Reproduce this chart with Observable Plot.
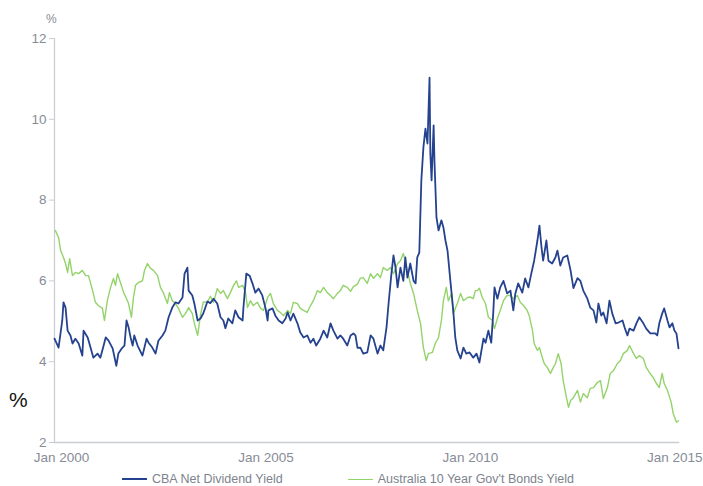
<!DOCTYPE html>
<html>
<head>
<meta charset="utf-8">
<script src="https://cdn.jsdelivr.net/npm/d3@7"></script>
<script src="https://cdn.jsdelivr.net/npm/@observablehq/plot@0.6"></script>
<style>
  html, body { margin: 0; padding: 0; background: #ffffff; }
  body { width: 703px; height: 486px; position: relative; overflow: hidden; font-family: "Liberation Sans", Arial, sans-serif; }
  #chart { position: absolute; left: 0; top: 0; }
  .unit-top { position: absolute; left: 46px; top: 12px; font-size: 12px; color: #878c96; }
  .unit-left { position: absolute; left: 9px; top: 388px; font-size: 21px; color: #111111; }
  .legend { position: absolute; left: 122px; top: 472px; display: flex; align-items: center; font-size: 12.5px; color: #7d838d; }
  .legend .item { display: flex; align-items: center; }
  .legend .sw { display: inline-block; width: 25px; height: 0; margin-right: 5px; }
</style>
</head>
<body>
<div id="chart"></div>
<div class="unit-top">%</div>
<div class="unit-left">%</div>
<div class="legend" id="legend"></div>
<script>
// ---- Data (decimal years, values in %) ----
const seriesNames = ["CBA Net Dividend Yield", "Australia 10 Year Gov't Bonds Yield"];
const seriesColors = ["#24428e", "#93d36a"];

const cbaYears = [1999.83,1999.93,2000.02,2000.05,2000.10,2000.15,2000.22,2000.27,2000.34,2000.42,2000.51,2000.54,2000.64,2000.71,2000.78,2000.88,2000.95,2001.03,2001.08,2001.15,2001.25,2001.34,2001.39,2001.49,2001.54,2001.59,2001.64,2001.69,2001.74,2001.78,2001.86,2001.98,2002.08,2002.13,2002.22,2002.30,2002.37,2002.47,2002.54,2002.62,2002.71,2002.79,2002.86,2002.96,2003.01,2003.08,2003.11,2003.20,2003.25,2003.33,2003.40,2003.47,2003.57,2003.64,2003.72,2003.81,2003.89,2003.96,2004.01,2004.08,2004.18,2004.25,2004.33,2004.43,2004.45,2004.52,2004.60,2004.67,2004.74,2004.82,2004.91,2004.99,2005.04,2005.06,2005.16,2005.23,2005.31,2005.40,2005.48,2005.53,2005.60,2005.67,2005.77,2005.84,2005.92,2006.01,2006.09,2006.16,2006.23,2006.33,2006.41,2006.50,2006.58,2006.65,2006.75,2006.82,2006.89,2006.99,2007.07,2007.14,2007.19,2007.24,2007.31,2007.38,2007.48,2007.56,2007.63,2007.73,2007.80,2007.87,2007.95,2008.00,2008.07,2008.12,2008.17,2008.22,2008.29,2008.36,2008.41,2008.46,2008.53,2008.61,2008.66,2008.70,2008.75,2008.80,2008.85,2008.90,2008.95,2009.00,2009.02,2009.05,2009.10,2009.12,2009.17,2009.22,2009.29,2009.34,2009.39,2009.44,2009.51,2009.58,2009.63,2009.68,2009.76,2009.83,2009.90,2009.98,2010.07,2010.15,2010.22,2010.32,2010.37,2010.44,2010.51,2010.56,2010.59,2010.66,2010.73,2010.81,2010.90,2010.98,2011.05,2011.10,2011.17,2011.27,2011.34,2011.42,2011.49,2011.56,2011.64,2011.69,2011.74,2011.78,2011.86,2011.91,2012.00,2012.08,2012.13,2012.20,2012.27,2012.37,2012.45,2012.52,2012.62,2012.69,2012.76,2012.86,2012.93,2013.01,2013.08,2013.13,2013.20,2013.25,2013.33,2013.40,2013.47,2013.55,2013.62,2013.72,2013.77,2013.84,2013.89,2013.99,2014.06,2014.13,2014.23,2014.30,2014.40,2014.52,2014.57,2014.62,2014.69,2014.74,2014.82,2014.87,2014.94,2014.99,2015.04,2015.09];
const cbaYield = [4.57,4.35,5.02,5.47,5.34,4.77,4.65,4.45,4.57,4.45,4.15,4.77,4.6,4.35,4.1,4.2,4.1,4.4,4.6,4.52,4.33,3.9,4.2,4.35,4.4,5.02,4.85,4.6,4.4,4.65,4.4,4.15,4.57,4.47,4.35,4.2,4.52,4.65,4.77,5.1,5.34,5.47,5.44,5.59,6.18,6.33,5.76,5.64,5.44,5.02,5.07,5.2,5.49,5.45,5.56,5.44,5.1,5.02,4.83,5.07,4.95,5.27,5.1,5.02,5.34,6.18,6.13,5.94,5.71,5.81,5.64,5.32,5.02,5.27,5.32,5.14,5.02,4.95,5.07,5.22,5.02,5.19,4.95,4.72,4.6,4.65,4.47,4.57,4.4,4.57,4.77,4.6,4.95,4.77,4.57,4.65,4.57,4.4,4.65,4.7,4.65,4.34,4.35,4.2,4.23,4.65,4.57,4.2,4.4,4.28,4.85,5.44,6.18,6.63,6.33,5.84,6.33,6.0,6.58,6.08,6.43,6.0,5.94,6.58,6.7,8.49,9.3,9.77,9.4,11.03,9.15,8.49,9.85,8.98,7.57,7.25,7.5,7.32,7.0,6.75,6.0,5.27,4.6,4.28,4.08,4.35,4.2,4.23,4.1,4.2,3.98,4.57,4.47,4.77,4.47,5.22,5.84,5.56,5.84,6.0,5.69,5.76,5.27,5.69,5.94,5.71,6.06,5.84,6.18,6.5,7.0,7.37,6.83,6.5,7.0,6.5,6.43,6.58,6.75,6.38,6.58,6.63,6.26,5.82,6.07,6.0,5.76,5.56,5.34,5.27,4.97,5.44,5.14,5.22,4.95,5.51,5.19,4.95,4.97,5.02,4.85,4.65,4.82,4.77,4.95,5.1,4.95,4.82,4.7,4.7,4.65,4.95,5.19,5.32,5.02,4.85,4.95,4.77,4.7,4.33];

const bondYears = [1999.85,1999.93,1999.98,2000.05,2000.10,2000.15,2000.20,2000.27,2000.34,2000.42,2000.51,2000.59,2000.66,2000.76,2000.83,2000.90,2001.00,2001.05,2001.12,2001.20,2001.27,2001.32,2001.37,2001.44,2001.52,2001.59,2001.64,2001.71,2001.76,2001.81,2001.88,2001.98,2002.03,2002.10,2002.18,2002.25,2002.35,2002.42,2002.49,2002.59,2002.64,2002.71,2002.79,2002.86,2002.96,2003.03,2003.11,2003.20,2003.25,2003.33,2003.40,2003.47,2003.57,2003.64,2003.72,2003.81,2003.89,2003.96,2004.06,2004.13,2004.21,2004.28,2004.33,2004.43,2004.50,2004.55,2004.62,2004.69,2004.79,2004.87,2004.94,2005.04,2005.11,2005.18,2005.28,2005.35,2005.43,2005.53,2005.60,2005.67,2005.77,2005.84,2005.92,2006.01,2006.09,2006.16,2006.26,2006.33,2006.41,2006.50,2006.58,2006.65,2006.75,2006.82,2006.89,2006.99,2007.07,2007.14,2007.24,2007.31,2007.38,2007.48,2007.56,2007.63,2007.73,2007.80,2007.87,2007.97,2008.04,2008.12,2008.22,2008.29,2008.36,2008.46,2008.53,2008.61,2008.70,2008.78,2008.85,2008.92,2008.97,2009.07,2009.14,2009.22,2009.29,2009.34,2009.41,2009.46,2009.54,2009.58,2009.68,2009.76,2009.83,2009.93,2010.00,2010.07,2010.12,2010.17,2010.22,2010.29,2010.37,2010.44,2010.54,2010.59,2010.66,2010.73,2010.81,2010.90,2010.98,2011.05,2011.15,2011.22,2011.30,2011.39,2011.44,2011.52,2011.56,2011.64,2011.69,2011.76,2011.81,2011.88,2011.96,2012.03,2012.08,2012.15,2012.22,2012.27,2012.35,2012.40,2012.45,2012.52,2012.62,2012.69,2012.76,2012.86,2012.93,2013.01,2013.11,2013.18,2013.25,2013.35,2013.42,2013.50,2013.59,2013.67,2013.74,2013.84,2013.89,2013.99,2014.06,2014.13,2014.23,2014.30,2014.38,2014.47,2014.55,2014.62,2014.69,2014.74,2014.82,2014.91,2014.96,2015.04,2015.09];
const bondYield = [7.25,7.07,6.75,6.58,6.43,6.21,6.55,6.13,6.21,6.18,6.26,6.13,6.13,5.76,5.47,5.39,5.32,5.02,5.51,5.84,6.06,5.89,6.18,5.96,5.71,5.56,5.44,5.1,5.59,5.89,5.96,6.0,6.26,6.43,6.31,6.26,6.13,5.84,5.71,5.44,5.71,5.51,5.44,5.32,5.1,5.19,5.34,5.19,4.95,4.65,5.16,5.48,5.47,5.62,5.47,5.81,5.69,5.76,5.56,5.71,5.89,6.0,5.84,5.89,5.71,5.34,5.51,5.39,5.47,5.32,5.27,5.59,5.69,5.44,5.27,5.22,5.14,5.27,5.19,5.47,5.44,5.32,5.27,5.22,5.39,5.51,5.76,5.71,5.84,5.71,5.64,5.56,5.69,5.76,5.89,5.84,5.74,5.86,5.92,6.07,6.08,5.94,6.18,6.06,6.18,6.08,6.33,6.26,6.33,6.18,6.43,6.5,6.68,6.26,5.94,5.69,5.27,4.95,4.35,4.03,4.2,4.23,4.45,4.6,5.02,5.51,5.84,5.51,5.69,5.19,5.44,5.69,5.51,5.59,5.6,5.56,5.76,5.76,5.82,5.59,5.44,5.1,5.02,4.82,5.07,5.27,5.51,5.64,5.64,5.56,5.64,5.47,5.39,5.27,5.14,4.77,4.45,4.28,4.35,4.1,3.95,3.86,3.71,3.86,3.95,4.2,3.95,3.53,3.11,2.87,3.04,3.11,3.29,3.0,3.21,3.11,3.34,3.36,3.49,3.53,3.09,3.36,3.71,3.78,3.95,4.03,4.2,4.28,4.4,4.2,4.08,4.15,4.08,3.86,3.73,3.61,3.46,3.36,3.71,3.46,3.29,3.0,2.72,2.5,2.54];

const xDomainYears = [1999.83, 2015.09];
const xTickYears = [2000, 2005, 2010, 2015];
const yDomain = [2, 12];
const yTicks = [2, 4, 6, 8, 10, 12];

// ---- helpers ----
function toDate(y) {
  const yr = Math.floor(y);
  const start = Date.UTC(yr, 0, 1), end = Date.UTC(yr + 1, 0, 1);
  return new Date(start + (y - yr) * (end - start));
}
const rows = [];
cbaYears.forEach((y, i) => rows.push({date: toDate(y), value: cbaYield[i], series: seriesNames[0]}));
bondYears.forEach((y, i) => rows.push({date: toDate(y), value: bondYield[i], series: seriesNames[1]}));
const cbaRows = rows.filter(d => d.series === seriesNames[0]);
const bondRows = rows.filter(d => d.series === seriesNames[1]);

const axisColor = "#c9cdd3";
const textColor = "#878c96";

const chart = Plot.plot({
  width: 703,
  height: 470,
  marginLeft: 54,
  marginRight: 25,
  marginTop: 38,
  marginBottom: 28,
  style: {fontFamily: "'Liberation Sans', Arial, sans-serif", fontSize: "13px", color: textColor, background: "#ffffff"},
  x: {type: "utc", domain: xDomainYears.map(toDate)},
  y: {domain: yDomain},
  marks: [
    Plot.axisY({ticks: yTicks, tickSize: 5, tickPadding: 3, stroke: axisColor, fill: textColor, label: null, fontSize: 13.5}),
    Plot.axisX({ticks: xTickYears.map(toDate), tickFormat: d3.utcFormat("%b %Y"), tickSize: 0, tickPadding: 10, fill: textColor, label: null, fontSize: 13.5}),
    Plot.frame({anchor: "left", stroke: axisColor, strokeWidth: 1.2}),
    Plot.frame({anchor: "bottom", stroke: axisColor, strokeWidth: 1.5}),
    Plot.line(bondRows, {x: "date", y: "value", stroke: seriesColors[1], strokeWidth: 1.4, strokeLinejoin: "round"}),
    Plot.line(cbaRows, {x: "date", y: "value", stroke: seriesColors[0], strokeWidth: 1.8, strokeLinejoin: "round"})
  ]
});
document.getElementById("chart").appendChild(chart);

// ---- legend ----
const legend = document.getElementById("legend");
seriesNames.forEach((name, i) => {
  const item = document.createElement("span");
  item.className = "item";
  item.style.marginRight = i === 0 ? "65px" : "0";
  const sw = document.createElement("span");
  sw.className = "sw";
  sw.style.borderTop = `${i === 0 ? 2 : 1.5}px solid ${seriesColors[i]}`;
  const t = document.createElement("span");
  t.textContent = name;
  item.appendChild(sw);
  item.appendChild(t);
  legend.appendChild(item);
});
</script>
</body>
</html>
